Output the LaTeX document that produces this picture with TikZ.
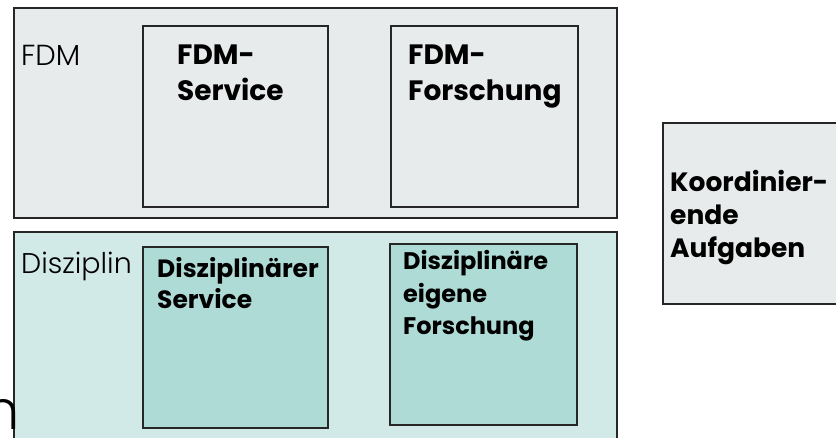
\documentclass[tikz,border=0pt]{standalone}
\usepackage{fontspec}
\setmainfont{Poppins}
\newfontfamily\lightfont{Poppins}[UprightFont=* Light]
\definecolor{linec}{HTML}{262626}
\definecolor{greyfill}{HTML}{E8EBEC}
\definecolor{palefill}{HTML}{D2EAE7}
\definecolor{tealfill}{HTML}{AEDBD6}
\tikzset{
  boxbase/.style={draw=linec, line width=1.6pt, inner sep=0pt, anchor=north west},
  greybox/.style={boxbase, fill=greyfill},
  palebox/.style={boxbase, fill=palefill},
  tealbox/.style={boxbase, fill=tealfill},
  lbl/.style={inner sep=0pt, anchor=base west, text=black},
}
\newcommand{\lines}[3]{\fontsize{#1}{#2}\selectfont\bfseries\begin{tabular}[t]{@{}l@{}}#3\end{tabular}}
\begin{document}
\begin{tikzpicture}[x=1pt,y=-1pt]
\useasboundingbox (0,0) rectangle (836,438);
\clip (0,0) rectangle (836,438);
% outer groups
\node[greybox, minimum width=603pt, minimum height=210pt] (fdm) at (13,7) {};
\node[palebox, minimum width=603pt, minimum height=230pt] (dis) at (13,231) {};
% inner boxes
\node[greybox, minimum width=185pt, minimum height=181pt] (fdmserv) at (142,25) {};
\node[greybox, minimum width=187pt, minimum height=181pt] (fdmfor) at (390,25) {};
\node[tealbox, minimum width=185pt, minimum height=181pt] (disserv) at (142,246) {};
\node[tealbox, minimum width=187pt, minimum height=181pt] (disfor) at (389,243) {};
\node[greybox, minimum width=190pt, minimum height=181pt] (koord) at (662,122) {};
% labels
\node[lbl] (fdmlbl) at (21,66) {\lightfont\fontsize{29}{34}\selectfont FDM};
\node[lbl] (dislbl) at (21,274) {\lightfont\fontsize{28.5}{34}\selectfont Disziplin};
\node[lbl] (fdmservt) at (177,65) {\lines{28}{36}{FDM-\\Service}};
\node[lbl] (fdmfort) at (408,65) {\lines{28}{36}{FDM-\\Forschung}};
\node[lbl] (disservt) at (157,278) {\lines{25}{31}{Disziplinärer\\Service}};
\node[lbl] (disfort) at (403,270) {\lines{24}{32.5}{Disziplinäre\\eigene\\Forschung}};
\node[lbl] (koordt) at (670,192) {\lines{26.5}{33}{Koordinier-\\ende\\Aufgaben}};
\node[inner sep=0pt, anchor=base east] (ncut) at (20,430) {\lightfont\fontsize{54}{60}\selectfont n};
\end{tikzpicture}
\end{document}
